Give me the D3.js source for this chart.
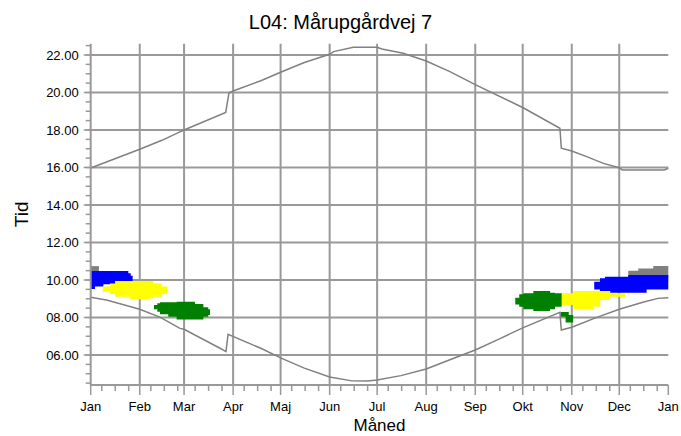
<!DOCTYPE html>
<html>
<head>
<meta charset="utf-8">
<script src="https://cdn.jsdelivr.net/npm/d3@7"></script>
<style>
    body { margin: 0; background: #fff; }
    svg { font-family: "Liberation Sans", Arial, sans-serif; }
</style>
</head>
<body>
<div id="chart"></div>
<script>
// month axis (day of year where each month starts)
let monthNames = ["Jan", "Feb", "Mar", "Apr", "Maj", "Jun", "Jul", "Aug", "Sep", "Okt", "Nov", "Dec", "Jan"];
let monthStarts = [0, 31, 59, 90, 120, 151, 181, 212, 243, 273, 304, 334, 365];
let hourTicks = [6, 8, 10, 12, 14, 16, 18, 20, 22];

// sunset / sunrise [day, hour]
let sunset = [[0, 15.97], [31, 16.97], [45, 17.45], [56.4, 17.9], [59, 18.0], [85.3, 18.94], [87.4, 19.98],
    [90, 20.08], [107.5, 20.63], [120, 21.08], [135, 21.6], [151, 22.04], [153.5, 22.18], [166, 22.41],
    [181, 22.41], [184, 22.32], [197.5, 22.09], [212, 21.68], [227, 21.11], [243, 20.42], [273, 19.2],
    [296.5, 18.09], [297.4, 17.03], [304, 16.88], [313.4, 16.58], [324, 16.22], [334, 15.99], [336, 15.87],
    [362.5, 15.87], [365, 15.96]];
let sunrise = [[0, 9.08], [10, 8.93], [31, 8.44], [44, 8.01], [56.4, 7.42], [59, 7.37], [81.7, 6.36],
    [85.5, 6.18], [86.8, 7.1], [107.5, 6.36], [120, 5.85], [135, 5.3], [151, 4.83], [165, 4.62], [175, 4.61],
    [181, 4.67], [196, 4.9], [212, 5.25], [227, 5.75], [243, 6.27], [258, 6.85], [273, 7.45], [296.5, 8.28],
    [297.4, 7.33], [304, 7.48], [319, 7.98], [334, 8.44], [350, 8.84], [358.5, 9.02], [365, 9.05]];

// shadow periods [day, from hour (top), to hour (bottom)]
let grayJan = [[0, 10.74, 10.2], [5.2, 10.74, 10.2]];
let blueJan = [[0, 10.48, 9.52], [2.7, 10.48, 9.65], [8, 10.48, 9.77], [20.6, 10.48, 9.91], [23.8, 10.36, 9.91],
    [25.3, 10.23, 9.95], [26.5, 10.23, 9.95]];
let yellowJan = [[7.6, 9.65, 9.38], [12.2, 9.82, 9.25], [15.4, 9.95, 9.11], [24.8, 9.95, 8.97], [37.5, 9.95, 9.03],
    [39.6, 9.82, 9.11], [44.9, 9.65, 9.25], [48.4, 9.65, 9.25]];
let greenMar = [[40.0, 8.67, 8.44], [42.1, 8.76, 8.31], [43.8, 8.81, 8.17], [49.0, 8.81, 8.04], [54.3, 8.84, 7.9],
    [65.9, 8.72, 7.9], [71.2, 8.55, 8.04], [74.3, 8.44, 8.13], [75.4, 8.44, 8.13]];
let grayDec = [[339.7, 10.5, 10.1], [346.0, 10.62, 10.1], [355.5, 10.75, 10.1], [365, 10.75, 10.1]];
let blueDec = [[318.2, 9.91, 9.5], [321.8, 10.09, 9.38], [325.0, 10.18, 9.32], [339.7, 10.27, 9.32],
    [351.3, 10.27, 9.5], [365, 10.27, 9.5]];
let yellowNov = [[296.9, 9.29, 8.67], [305.0, 9.41, 8.44], [317.7, 9.41, 8.58], [322.0, 9.41, 8.93],
    [328.3, 9.29, 9.11], [337.8, 9.29, 9.11]];
let greenOkt = [[268.3, 9.06, 8.7], [270.8, 9.24, 8.58], [273.4, 9.29, 8.44], [279.7, 9.41, 8.35],
    [290.3, 9.32, 8.44], [293.4, 9.29, 8.58], [297.6, 9.29, 8.58]];
let greenNov = [[296.9, 8.29, 8.04], [300.1, 8.29, 7.73], [302.1, 8.13, 7.73], [304.9, 8.13, 7.73]];

let width = 681, height = 436;
let margin = {top: 43.75, right: 12.7, bottom: 51, left: 90.7};
let gridColor = "#999";

let svg = d3.select("#chart").append("svg")
    .attr("width", width)
    .attr("height", height);

let x = d3.scaleLinear().domain([0, 365]).range([margin.left, width - margin.right]);
let y = d3.scaleLinear().domain([4.4, 22.6]).range([height - margin.bottom, margin.top]);

// grid
svg.append("g").selectAll("line")
    .data(monthStarts.slice(1, -1))
    .enter().append("line")
    .attr("x1", d => x(d)).attr("x2", d => x(d))
    .attr("y1", y(22.6)).attr("y2", y(4.4))
    .attr("stroke", gridColor).attr("stroke-width", 2);
svg.append("g").selectAll("line")
    .data(hourTicks)
    .enter().append("line")
    .attr("x1", x(0)).attr("x2", x(365))
    .attr("y1", d => y(d)).attr("y2", d => y(d))
    .attr("stroke", gridColor).attr("stroke-width", 2);

// shadow blobs
let area = d3.area()
    .x(d => x(d[0]))
    .y0(d => y(d[2]))
    .y1(d => y(d[1]))
    .curve(d3.curveStepAfter);

let blobs = [
    {data: grayJan, color: "#808080"}, {data: grayDec, color: "#808080"},
    {data: blueJan, color: "#0000ff"}, {data: blueDec, color: "#0000ff"},
    {data: yellowJan, color: "#ffff00"}, {data: yellowNov, color: "#ffff00"},
    {data: greenMar, color: "#008000"}, {data: greenOkt, color: "#008000"}, {data: greenNov, color: "#008000"}
];
svg.append("g").selectAll("path")
    .data(blobs)
    .enter().append("path")
    .attr("d", d => area(d.data))
    .attr("fill", d => d.color);

// sunrise / sunset
let line = d3.line().x(d => x(d[0])).y(d => y(d[1]));
[sunset, sunrise].forEach(s => {
    svg.append("path")
        .attr("d", line(s))
        .attr("fill", "none")
        .attr("stroke", "#808080")
        .attr("stroke-width", 1.5);
});

// y axis
let yAxis = svg.append("g");
yAxis.append("line")
    .attr("x1", x(0)).attr("x2", x(0))
    .attr("y1", y(22.6)).attr("y2", y(4.4))
    .attr("stroke", gridColor).attr("stroke-width", 2);
yAxis.selectAll("line.minor")
    .data(d3.range(4.5, 22.75, 0.5))
    .enter().append("line")
    .attr("class", "minor")
    .attr("x1", x(0) - 5).attr("x2", x(0))
    .attr("y1", d => y(d)).attr("y2", d => y(d))
    .attr("stroke", gridColor).attr("stroke-width", 1.5);
yAxis.selectAll("line.major")
    .data(hourTicks)
    .enter().append("line")
    .attr("class", "major")
    .attr("x1", x(0) - 7).attr("x2", x(0))
    .attr("y1", d => y(d)).attr("y2", d => y(d))
    .attr("stroke", gridColor).attr("stroke-width", 1.5);
yAxis.selectAll("text")
    .data(hourTicks)
    .enter().append("text")
    .attr("x", x(0) - 12)
    .attr("y", d => y(d))
    .attr("dy", "0.35em")
    .attr("text-anchor", "end")
    .attr("font-size", 13)
    .text(d => d3.format("02d")(d) + ".00");

// x axis
let xAxis = svg.append("g");
let axisY = y(4.4);
xAxis.append("line")
    .attr("x1", x(0)).attr("x2", x(365))
    .attr("y1", axisY).attr("y2", axisY)
    .attr("stroke", gridColor).attr("stroke-width", 2);
let minorDays = [];
monthStarts.slice(0, -1).forEach(m => [7, 15.5, 24].forEach(o => minorDays.push(m + o)));
xAxis.selectAll("line.minor")
    .data(minorDays)
    .enter().append("line")
    .attr("class", "minor")
    .attr("x1", d => x(d)).attr("x2", d => x(d))
    .attr("y1", axisY).attr("y2", axisY + 6)
    .attr("stroke", gridColor).attr("stroke-width", 1.5);
xAxis.selectAll("line.major")
    .data(monthStarts)
    .enter().append("line")
    .attr("class", "major")
    .attr("x1", d => x(d)).attr("x2", d => x(d))
    .attr("y1", axisY).attr("y2", axisY + 10)
    .attr("stroke", gridColor).attr("stroke-width", 1.5);
xAxis.selectAll("text")
    .data(monthStarts)
    .enter().append("text")
    .attr("x", d => x(d))
    .attr("y", 411)
    .attr("text-anchor", "middle")
    .attr("font-size", 13)
    .text((d, i) => monthNames[i]);

// titles
svg.append("text")
    .attr("x", width / 2).attr("y", 29)
    .attr("text-anchor", "middle")
    .attr("font-size", 20)
    .text("L04: Mårupgårdvej 7");
svg.append("text")
    .attr("x", (x(0) + x(365)) / 2).attr("y", 431)
    .attr("text-anchor", "middle")
    .attr("font-size", 17)
    .text("Måned");
svg.append("text")
    .attr("transform", "translate(28," + y(13.5) + ") rotate(-90)")
    .attr("text-anchor", "middle")
    .attr("font-size", 19)
    .text("Tid");
</script>
</body>
</html>
